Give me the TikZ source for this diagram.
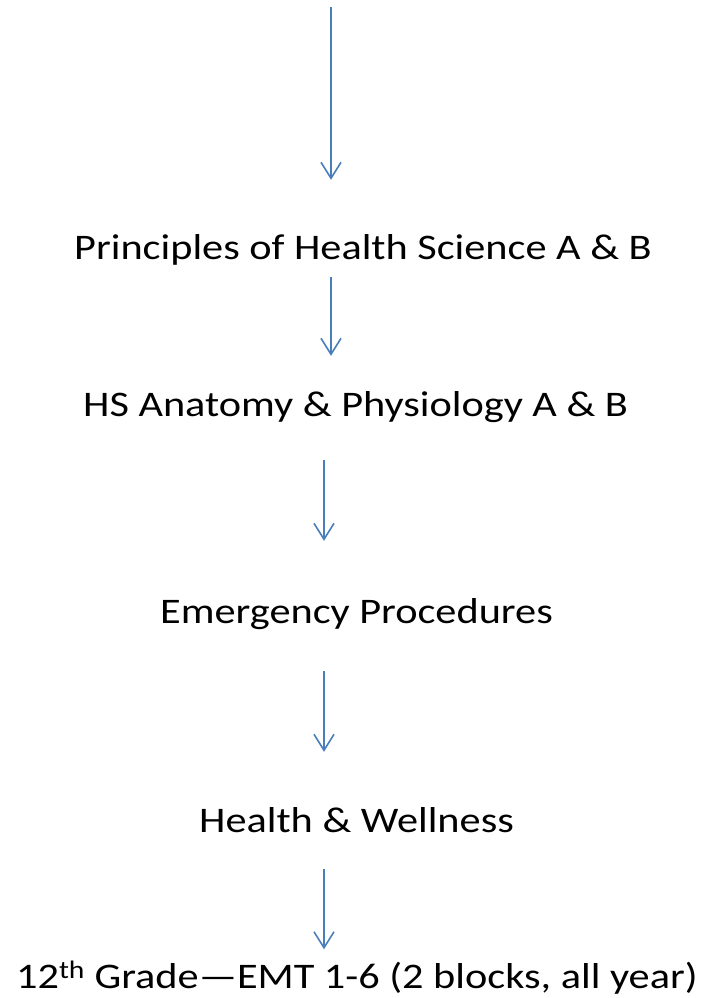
\documentclass[tikz,border=0pt]{standalone}
\usepackage{fontspec}
\setmainfont[FakeStretch=1.175]{Carlito}
\usepackage{tikz}
\usetikzlibrary{arrows.meta, calc, positioning}
\definecolor{flowblue}{HTML}{4A7EBB}

\begin{document}
\begin{tikzpicture}[x=1pt, y=1pt]
        \def\colorflow{flowblue}
        \tikzset{course/.style={
                anchor = base west,
                inner sep = 0pt,
                font = \fontsize{36}{40}\selectfont
        }}
        \tikzset{connector/.style={
                draw = \colorflow,
                line width = 1.6,
                -{Straight Barb[length=16pt, width=20pt, line width=1.6pt]}
        }}

        \useasboundingbox (0,0) rectangle (702,-998);

        \coordinate (entry) at (331,-7);
        \coordinate (lane) at (324,0);
        \node[course] (principles) at (74,-259) {Principles of Health Science A \& B};
        \node[course] (anatomy) at (83,-416) {HS Anatomy \& Physiology A \& B};
        \node[course] (emergency) at (160,-623) {Emergency Procedures};
        \node[course] (wellness) at (199,-832) {Health \& Wellness};
        \node[course] (emt) at (16,-988) {12\textsuperscript{th} Grade—EMT 1-6 (2 blocks, all year)};

        \draw[connector, shorten >= 54] (entry) -- (entry |- principles.north);
        \draw[connector, shorten <= 12, shorten >= 35] (principles.south -| entry) -- (anatomy.north -| entry);
        \draw[connector, shorten <= 38, shorten >= 57] (anatomy.south -| lane) -- (emergency.north -| lane);
        \draw[connector, shorten <= 42, shorten >= 55] (emergency.south -| lane) -- (wellness.north -| lane);
        \draw[connector, shorten <= 37, shorten >= 12] (wellness.south -| lane) -- (emt.north -| lane);
\end{tikzpicture}
\end{document}
